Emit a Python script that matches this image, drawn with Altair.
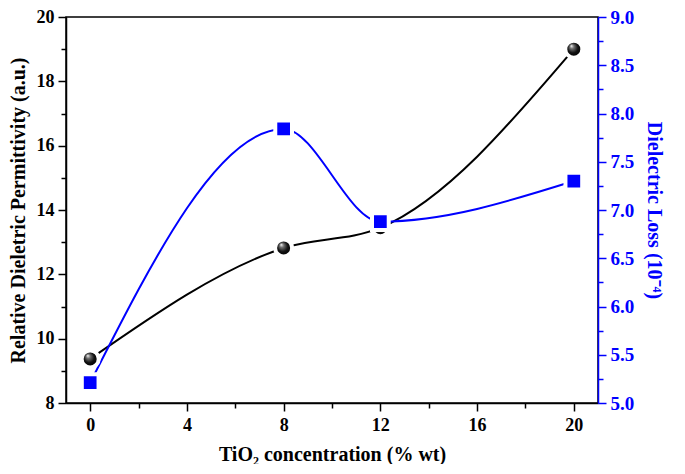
import altair as alt
import pandas as pd

conc = [0, 8, 12, 20]
permittivity = [9.37, 12.82, 13.45, 19.0]
loss = [5.21, 7.84, 6.88, 7.30]

x_ticks = list(range(0, 21, 2))
y_left_ticks = list(range(8, 21, 1))
y_right_ticks = [5.0 + 0.25 * i for i in range(17)]

df = pd.DataFrame({"conc": conc, "perm": permittivity, "loss": loss})

FONT = "Liberation Serif"
BLUE = "#0000FF"

x_scale = alt.Scale(domain=[-1, 21], nice=False, zero=False)
x_axis = alt.Axis(
    title="TiO₂ concentration (% wt)",
    values=x_ticks,
    format="d",
    labelExpr="datum.value % 4 == 0 ? datum.label : ''",
    tickSize={"condition": {"test": "datum.value % 4 == 0", "value": 8}, "value": 5},
    labelPadding=5,
    titlePadding=10,
    grid=False,
)
x_enc = alt.X("conc:Q", scale=x_scale, axis=x_axis)

yl_scale = alt.Scale(domain=[8, 20], nice=False, zero=False)
yr_scale = alt.Scale(domain=[5, 9], nice=False, zero=False)

black_line = alt.Chart(df).mark_line(color="black", strokeWidth=2, interpolate="monotone").encode(
    x=x_enc,
    y=alt.Y(
        "perm:Q",
        scale=yl_scale,
        axis=alt.Axis(
            title="Relative Dieletric Permittivity (a.u.)",
            orient="left",
            values=y_left_ticks,
            labelExpr="datum.value % 2 == 0 ? datum.label : ''",
            tickSize={"condition": {"test": "datum.value % 2 == 0", "value": 8}, "value": 5},
            titlePadding=8,
            grid=False,
        ),
    ),
)

blue_line = alt.Chart(df).mark_line(color=BLUE, strokeWidth=2, interpolate="monotone").encode(
    x=x_enc,
    y=alt.Y(
        "loss:Q",
        scale=yr_scale,
        axis=alt.Axis(
            title="Dielectric Loss (10⁻⁴)",
            orient="right",
            values=y_right_ticks,
            format=".1f",
            labelExpr="datum.value % 0.5 == 0 ? datum.label : ''",
            tickSize={"condition": {"test": "datum.value % 0.5 == 0", "value": 8}, "value": 5},
            titlePadding=10,
            labelFontSize=19,
            grid=False,
            domainColor=BLUE,
            tickColor=BLUE,
            labelColor=BLUE,
            titleColor=BLUE,
        ),
    ),
)

ball_fill = alt.RadialGradient(
    gradient="radial",
    x1=0.35, y1=0.3, r1=0.0,
    x2=0.5, y2=0.5, r2=0.5,
    stops=[
        alt.GradientStop(offset=0.0, color="#ffffff"),
        alt.GradientStop(offset=0.25, color="#707070"),
        alt.GradientStop(offset=0.6, color="#111111"),
        alt.GradientStop(offset=1.0, color="#000000"),
    ],
)

black_pts = alt.Chart(df).mark_point(
    shape="circle", filled=True, fill=ball_fill, fillOpacity=1, size=290,
    stroke="white", strokeWidth=4, strokeOpacity=1,
).encode(
    x=x_enc,
    y=alt.Y("perm:Q", scale=yl_scale, axis=None),
)

blue_sq = alt.Chart(df).mark_point(
    shape="square", filled=True, fill=BLUE, fillOpacity=1, size=280,
    stroke="white", strokeWidth=4, strokeOpacity=1,
).encode(
    x=x_enc,
    y=alt.Y("loss:Q", scale=yr_scale, axis=None),
)

chart = alt.layer(black_line, blue_line, black_pts, blue_sq).resolve_scale(
    y="independent"
).properties(
    width=532, height=386, padding={"left": 0, "top": 0, "right": 6, "bottom": 0}
).configure_view(
    stroke="black", strokeWidth=1.5
).configure_axis(
    labelFont=FONT, titleFont=FONT, labelFontSize=18, titleFontSize=20,
    labelFontWeight="bold", titleFontWeight="bold",
    labelColor="black", titleColor="black", domainColor="black", tickColor="black",
    domainWidth=1.5, tickWidth=1.5, labelPadding=4,
)

chart.save("out.html", embed_options={"renderer": "svg", "actions": False})
